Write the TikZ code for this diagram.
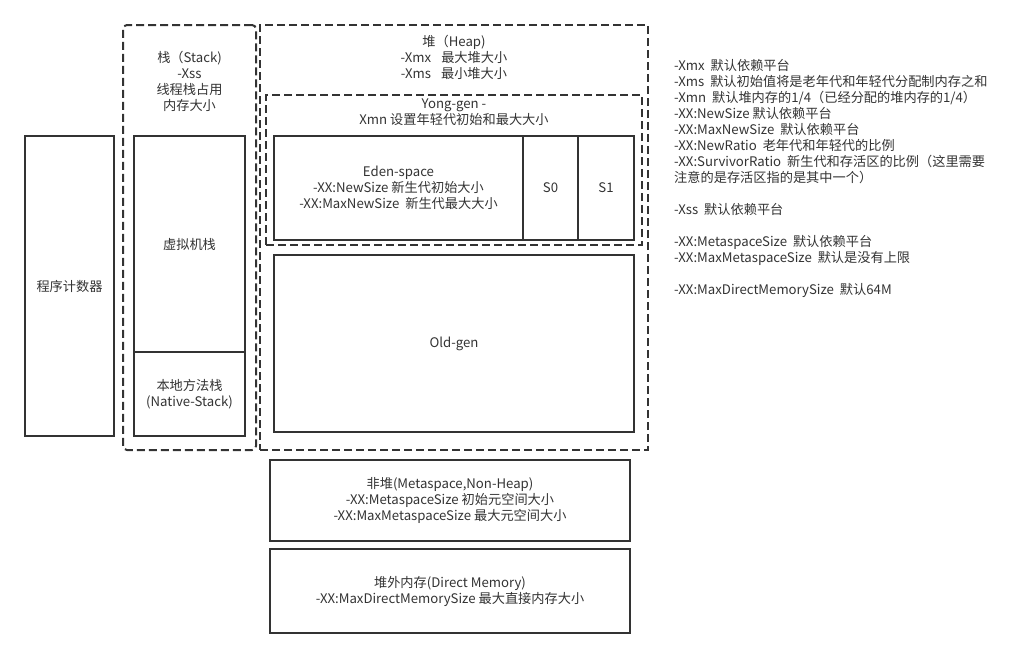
\documentclass[tikz,border=0pt]{standalone}
\usepackage{fontspec}
\setmainfont{Noto Sans CJK SC}
\definecolor{ink}{HTML}{333333}
\tikzset{
  box/.style={draw=ink, line width=2pt, rectangle, inner sep=0pt, text=ink, align=center, font=\fontsize{13.2pt}{16pt}\selectfont},
  dbox/.style={draw=ink, line width=2pt, rectangle, inner sep=0pt, dash pattern=on 8pt off 4pt},
  lbl/.style={text=ink, align=center, inner sep=0pt, font=\fontsize{13.2pt}{16pt}\selectfont},
  notes/.style={text=ink, align=left, inner sep=0pt, font=\fontsize{13.2pt}{16pt}\selectfont}
}
\begin{document}
\begin{tikzpicture}[x=1pt,y=-1pt]
\useasboundingbox (0,0) rectangle (1015,659);
% program counter
\node[box, minimum width=89pt, minimum height=300pt] (pc) at (69.5,286) {程序计数器};
% stack
\node[dbox, rounded corners=4pt, minimum width=133pt, minimum height=425pt] (stack) at (189.5,237.5) {};
\node[lbl] (stacklbl) at (189.5,81) {栈（Stack)\\-Xss\\线程栈占用\\内存大小};
\node[box, minimum width=111pt, minimum height=216pt] (jvm) at (189.5,244) {虚拟机栈};
\node[box, minimum width=111pt, minimum height=84pt] (native) at (189.5,394) {本地方法栈\\(Native-Stack)};
% heap
\node[dbox, minimum width=388pt, minimum height=425pt] (heap) at (454,237.5) {};
\node[lbl] (heaplbl) at (454,57) {堆（Heap)\\-Xmx\hspace{10pt}最大堆大小\\-Xms\hspace{10pt}最小堆大小};
\node[dbox, minimum width=376pt, minimum height=150pt] (young) at (454,170) {};
\node[lbl] (younglbl) at (454,112.5) {Yong-gen -\\Xmn 设置年轻代初始和最大大小};
\node[box, minimum width=249pt, minimum height=104pt] (eden) at (398.5,188) {Eden-space\\-XX:NewSize 新生代初始大小\\-XX:MaxNewSize\ \ 新生代最大大小};
\node[box, minimum width=55pt, minimum height=104pt] (s0) at (550.5,188) {S0};
\node[box, minimum width=56pt, minimum height=104pt] (s1) at (606,188) {S1};
\node[box, minimum width=360pt, minimum height=177pt] (old) at (454,343.5) {Old-gen};
% non-heap
\node[box, minimum width=360pt, minimum height=81pt] (meta) at (450,500.5) {非堆(Metaspace,Non-Heap)\\-XX:MetaspaceSize 初始元空间大小\\-XX:MaxMetaspaceSize 最大元空间大小};
\node[box, minimum width=360pt, minimum height=84pt] (direct) at (450,591) {堆外内存(Direct Memory)\\-XX:MaxDirectMemorySize 最大直接内存大小};
% notes
\node[notes, anchor=north west] (notes) at (674,59) {-Xmx\ \ 默认依赖平台\\
-Xms\ \ 默认初始值将是老年代和年轻代分配制内存之和\\
-Xmn\ \ 默认堆内存的1/4（已经分配的堆内存的1/4）\\
-XX:NewSize 默认依赖平台\\
-XX:MaxNewSize\ \ 默认依赖平台\\
-XX:NewRatio\ \ 老年代和年轻代的比例\\
-XX:SurvivorRatio\ \ 新生代和存活区的比例（这里需要\\
注意的是存活区指的是其中一个）\\[16pt]
-Xss\ \ 默认依赖平台\\[16pt]
-XX:MetaspaceSize\ \ 默认依赖平台\\
-XX:MaxMetaspaceSize\ \ 默认是没有上限\\[16pt]
-XX:MaxDirectMemorySize\ \ 默认64M};
\end{tikzpicture}
\end{document}
